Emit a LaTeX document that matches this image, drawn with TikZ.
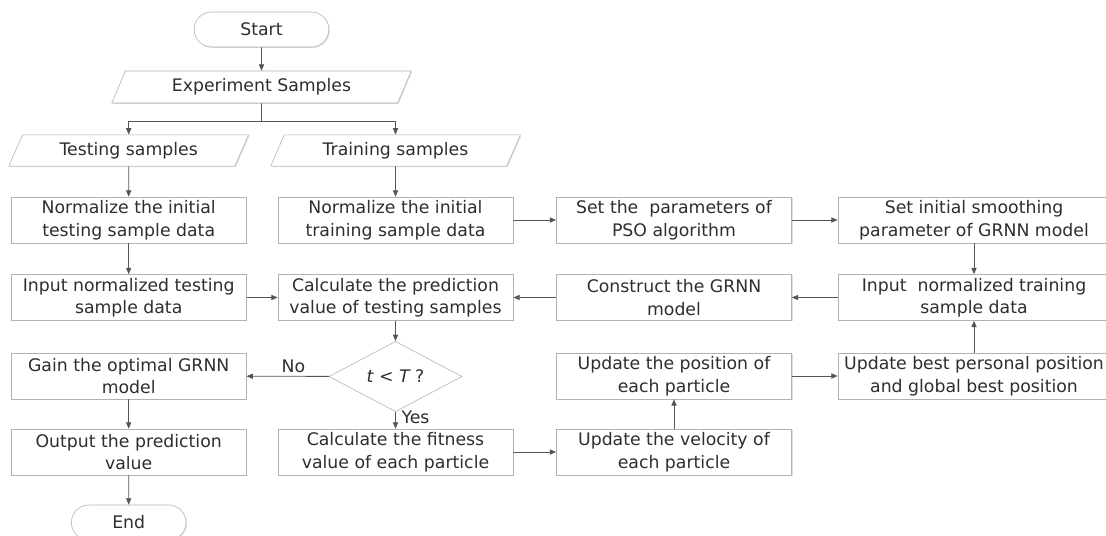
\documentclass[tikz,border=0pt]{standalone}
\usepackage{fontspec}
\setmainfont{DejaVu Sans}
\usetikzlibrary{shapes.geometric,shapes.misc,arrows.meta,shadows}

\definecolor{linegray}{HTML}{555555}
\definecolor{edgegray}{HTML}{B2B2B2}
\definecolor{textgray}{HTML}{2E2E2E}

\tikzset{
  shade box/.style={drop shadow={shadow xshift=0.7pt, shadow yshift=-0.7pt, fill=black!12, opacity=1}},
  box/.style={rectangle, draw=edgegray, fill=white, text=textgray, align=center,
    minimum width=5.875cm, minimum height=1.15cm, inner sep=1pt, shade box},
  widebox/.style={box, minimum width=6.8cm},
  io/.style={trapezium, trapezium left angle=65, trapezium right angle=115,
    trapezium stretches=true, draw=edgegray, fill=white, text=textgray,
    minimum width=6cm, minimum height=0.78cm, inner sep=1pt, shade box},
  term/.style={rounded rectangle, draw=edgegray, fill=white, text=textgray,
    minimum width=3.6cm, minimum height=0.875cm, shade box},
  decision/.style={diamond, draw=edgegray, fill=white, text=textgray,
    minimum width=3.325cm, minimum height=1.175cm, inner sep=0pt},
  arr/.style={draw=linegray, line width=0.6pt, -{Triangle[length=1.6mm,width=1.3mm]}},
  link/.style={draw=linegray, line width=0.6pt},
  lab/.style={text=textgray, inner sep=2pt}
}

\begin{document}
\begin{tikzpicture}[x=0.025cm, y=-0.025cm, font=\fontsize{12.3}{16}\selectfont]
    \useasboundingbox (0,0) rectangle (1106,536);

    % Start and the samples
    \node[term] (start) at (261.5,29.5) {Start};
    \node[io, minimum width=7.5cm, minimum height=0.8cm] (exp) at (261.5,87) {Experiment Samples};
    \coordinate (split) at (261.5,121);
    \node[io] (test) at (128.7,150.5) {Testing samples};
    \node[io, minimum width=6.25cm] (train) at (395.5,150.5) {Training samples};

    % First row
    \node[box] (normtest) at (128.7,220) {Normalize the initial\\testing sample data};
    \node[box] (normtrain) at (395.5,220) {Normalize the initial\\training sample data};
    \node[box] (pso) at (674,220) {Set the~ parameters of\\PSO algorithm};
    \node[widebox] (smooth) at (974,220) {Set initial smoothing\\parameter of GRNN model};

    % Second row
    \node[box] (inputtest) at (128.7,297.5) {Input normalized testing\\sample data};
    \node[box] (calcpred) at (395.5,297.5) {Calculate the prediction\\value of testing samples};
    \node[box] (construct) at (674,297.5) {Construct the GRNN\\model};
    \node[widebox] (inputtrain) at (974,297.5) {Input~ normalized training\\sample data};

    % Third row
    \node[box] (gain) at (128.7,376) {Gain the optimal GRNN\\model};
    \node[decision] (decide) at (395.5,376.5) {{\itshape t} < {\itshape T} ?};
    \node[box] (position) at (674,376) {Update the position of\\each particle};
    \node[widebox] (best) at (974,376) {Update best personal position\\and global best position};

    % Fourth row
    \node[box] (output) at (128.7,452) {Output the prediction\\value};
    \node[box] (fitness) at (395.5,452) {Calculate the fitness\\value of each particle};
    \node[box] (velocity) at (674,452) {Update the velocity of\\each particle};
    \node[term, minimum width=3.1cm] (stop) at (128.7,522.5) {End};

    % Connectors
    \draw[arr] (start) -- (exp);
    \draw[link] (exp) -- (split);
    \draw[arr] (split) -| (test);
    \draw[arr] (split) -| (train);
    \draw[arr] (test) -- (normtest);
    \draw[arr] (train) -- (normtrain);
    \draw[arr] (normtest) -- (inputtest);
    \draw[arr] (normtrain) -- (pso);
    \draw[arr] (pso) -- (smooth);
    \draw[arr] (smooth) -- (inputtrain);
    \draw[arr] (inputtrain) -- (construct);
    \draw[arr] (construct) -- (calcpred);
    \draw[arr] (inputtest) -- (calcpred);
    \draw[arr] (calcpred) -- (decide);
    \draw[arr] (decide) -- node[lab, above, xshift=4pt] {No} (gain);
    \draw[arr] (decide) -- node[lab, right, xshift=2pt, yshift=2pt] {Yes} (fitness);
    \draw[arr] (fitness) -- (velocity);
    \draw[arr] (velocity) -- (position);
    \draw[arr] (position) -- (best);
    \draw[arr] (best) -- (inputtrain);
    \draw[arr] (gain) -- (output);
    \draw[arr] (output) -- (stop);
\end{tikzpicture}
\end{document}
